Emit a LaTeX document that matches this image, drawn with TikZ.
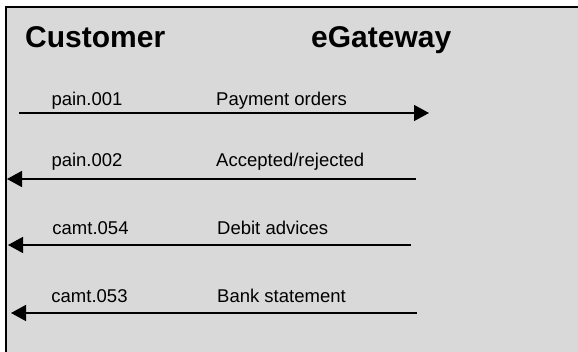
\documentclass[tikz,border=0pt]{standalone}
\usepackage{fontspec}
\setmainfont{Liberation Sans}
\usetikzlibrary{arrows.meta,positioning}
\definecolor{panelgray}{HTML}{D9D9D9}

\begin{document}
\begin{tikzpicture}[
    x=1pt, y=-1pt,
    every node/.style={font=\fontsize{18.5}{20}\selectfont, inner sep=0pt},
    party/.style={font=\fontsize{30}{32}\selectfont\bfseries, anchor=base west},
    msgcode/.style={anchor=base},
    msgname/.style={anchor=base west},
    arrow/.style={-{Triangle[length=15pt,width=16pt]}, line width=1.5pt}
]

% Background panel
\useasboundingbox (0,0) rectangle (578,352);
\fill[panelgray] (6,7) rectangle (578,352);
\draw[line width=2pt] (6,352) -- (6,7) -- (578,7);

% Parties
\node[party] (customer) at (25,48) {Customer};
\node[party] (egateway) at (311,48) {eGateway};

% Message labels
\node[msgcode] (pain1) at (87,106) {pain.001};
\node[msgname] (orders) at (216,106) {Payment orders};
\node[msgcode] (pain2) at (87,167) {pain.002};
\node[msgname] (accepted) at (216,167) {Accepted/rejected};
\node[msgcode] (camt54) at (90.5,235) {camt.054};
\node[msgname] (debit) at (217,235) {Debit advices};
\node[msgcode] (camt53) at (89.5,303) {camt.053};
\node[msgname] (statement) at (217,303) {Bank statement};

% Arrow end points
\coordinate (a1s) at (19,113);
\coordinate (a1e) at (429,113);
\coordinate (a2s) at (416,179);
\coordinate (a2e) at (7,179);
\coordinate (a3s) at (411,245);
\coordinate (a3e) at (8,245);
\coordinate (a4s) at (417,313);
\coordinate (a4e) at (11,313);

% Arrows
\draw[arrow] (a1s) -- (a1e);
\draw[arrow] (a2s) -- (a2e);
\draw[arrow] (a3s) -- (a3e);
\draw[arrow] (a4s) -- (a4e);

\end{tikzpicture}
\end{document}
